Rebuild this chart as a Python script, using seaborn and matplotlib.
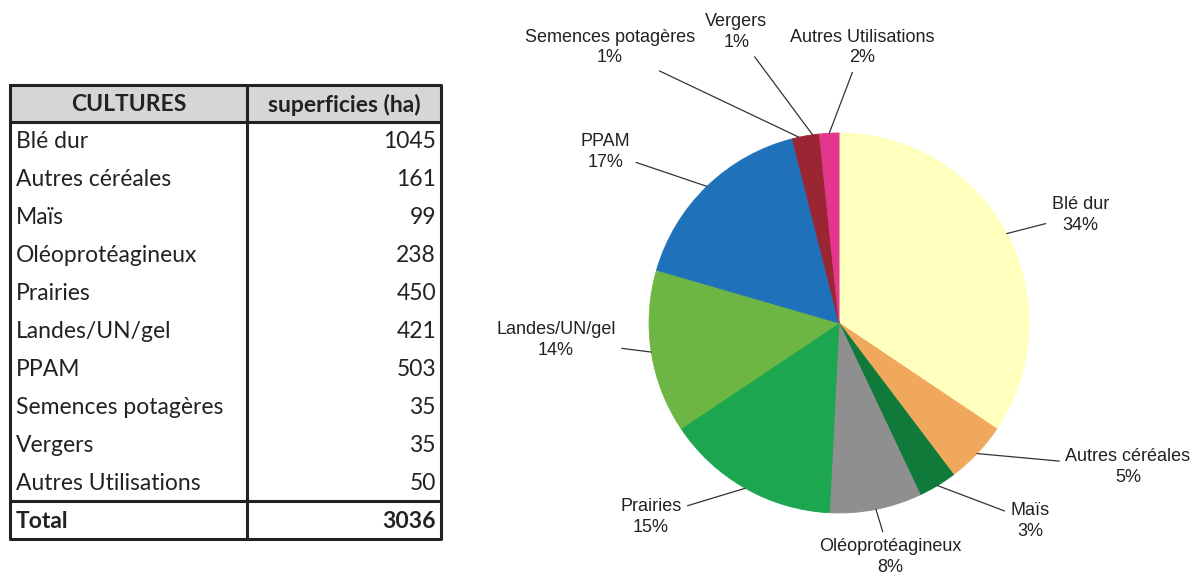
import numpy as np
import pandas as pd
import matplotlib
matplotlib.use("Agg")
import matplotlib.pyplot as plt
import seaborn as sns

# donnees
cultures = ['Blé dur', 'Autres céréales', 'Maïs', 'Oléoprotéagineux', 'Prairies',
            'Landes/UN/gel', 'PPAM', 'Semences potagères', 'Vergers', 'Autres Utilisations']
superficies = [1045, 161, 99, 238, 450, 421, 503, 35, 35, 50]
total = 3036
couleurs = ['#ffffbe', '#f0a85c', '#0f7a3a', '#8f8f8f', '#1ca650',
            '#6db644', '#1f72b9', '#9a2633', '#9a2633', '#e2378c']

df = pd.DataFrame({'culture': cultures, 'ha': superficies})
df['pct'] = df['ha'] / df['ha'].sum() * 100

sns.set_theme(style='white')
plt.rcParams['font.family'] = ['Liberation Sans', 'DejaVu Sans']

fig = plt.figure(figsize=(11.92, 5.76), dpi=100)

# ---- tableau (coordonnees en pixels)
axt = fig.add_axes([0, 0, 1, 1])
axt.set_xlim(0, 1192)
axt.set_ylim(576, 0)
axt.axis('off')

x0, x1, xm = 10, 441, 247
y_top, y_head, y_tot, y_bot = 85, 122, 501, 539
h_row = (y_tot - y_head) / len(cultures)
fnt = ['Lato', 'DejaVu Sans']
fs = 16.5

axt.add_patch(plt.Rectangle((x0, y_top), x1 - x0, y_head - y_top, facecolor='#d6d6d6', edgecolor='none'))
axt.plot([x0, x1, x1, x0, x0], [y_top, y_top, y_bot, y_bot, y_top], color='#222222', lw=2.2)
axt.plot([xm, xm], [y_top, y_bot], color='#222222', lw=2.2)
axt.plot([x0, x1], [y_head, y_head], color='#222222', lw=2.2)
axt.plot([x0, x1], [y_tot, y_tot], color='#222222', lw=2.2)

axt.text((x0 + xm) / 2, (y_top + y_head) / 2 + 1, 'CULTURES', ha='center', va='center',
         fontsize=fs, fontweight='bold', family=fnt, color='#222222')
axt.text((xm + x1) / 2, (y_top + y_head) / 2 + 1, 'superficies (ha)', ha='center', va='center',
         fontsize=fs, fontweight='bold', family=fnt, color='#222222')
for i, (c, v) in enumerate(zip(cultures, superficies)):
    yc = y_head + (i + 0.5) * h_row + 1
    axt.text(16, yc, c, ha='left', va='center', fontsize=fs, family=fnt, color='#222222')
    axt.text(436, yc, str(v), ha='right', va='center', fontsize=fs, family=fnt, color='#222222')
yc = (y_tot + y_bot) / 2 + 1
axt.text(16, yc, 'Total', ha='left', va='center', fontsize=fs, fontweight='bold', family=fnt, color='#222222')
axt.text(436, yc, str(total), ha='right', va='center', fontsize=fs, fontweight='bold', family=fnt, color='#222222')

# ---- camembert
ax = fig.add_axes([0.5445, 0.1094, 0.3188, 0.6597])
pal = sns.color_palette(couleurs)
wedges, _ = ax.pie(df['ha'], colors=pal, startangle=90, counterclock=False, radius=1,
                   wedgeprops=dict(linewidth=0.6))
for w, col in zip(wedges, pal):
    w.set_edgecolor(col)
ax.set_xlim(-1, 1)
ax.set_ylim(-1, 1)
ax.set_aspect('equal')

# position des etiquettes (relatif au centre, en rayons)
pos_lab = [(1.27, 0.57), (1.52, -0.76), (1.005, -1.04), (0.27, -1.23), (-0.99, -1.02),
           (-1.49, -0.09), (-1.23, 0.90), (-1.205, 1.45), (-0.54, 1.53), (0.12, 1.45)]

for w, c, p, (tx, ty) in zip(wedges, df['culture'], df['pct'], pos_lab):
    ang = np.deg2rad((w.theta1 + w.theta2) / 2)
    xy = (np.cos(ang), np.sin(ang))
    ax.annotate(f'{c}\n{p:.0f}%', xy=xy, xytext=(tx, ty), ha='center', va='center',
                fontsize=13, color='#222222', linespacing=1.3, annotation_clip=False,
                arrowprops=dict(arrowstyle='-', color='#333333', lw=0.9, shrinkA=2, shrinkB=0))

fig.savefig('out.png', dpi=100, facecolor='white')
